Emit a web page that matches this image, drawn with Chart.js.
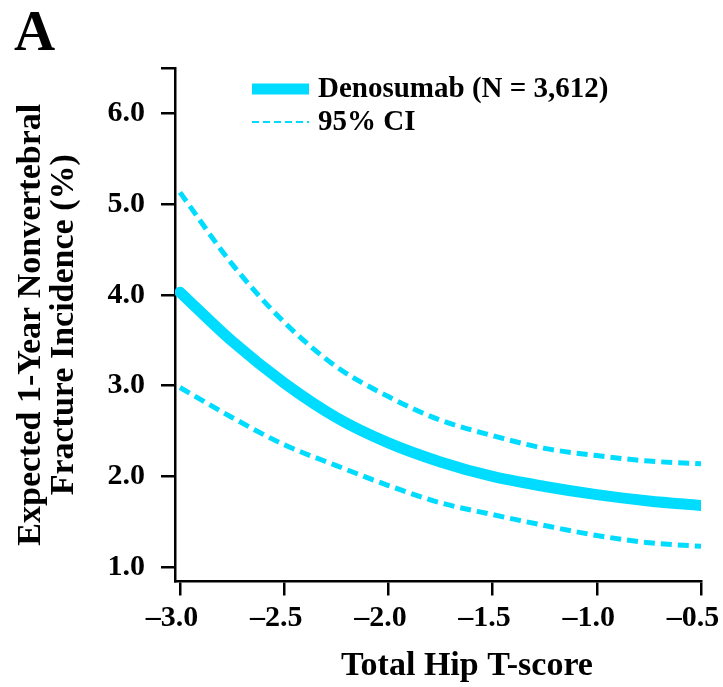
<!DOCTYPE html>
<html>
<head>
<meta charset="utf-8">
<script src="https://cdn.jsdelivr.net/npm/chart.js@4"></script>
<style>
  html, body { margin: 0; padding: 0; background: #ffffff; }
  #wrap { position: relative; width: 723px; height: 687px; }
  canvas { display: block; }
</style>
</head>
<body>
<div id="wrap"><canvas id="c" width="723" height="687"></canvas></div>
<script>
// ---- data ----
const tScores   = [-3.0, -2.75, -2.5, -2.25, -2.0, -1.75, -1.5, -1.25, -1.0, -0.75, -0.5];
const incidence = [4.03, 3.49, 3.03, 2.65, 2.37, 2.16, 2.00, 1.89, 1.80, 1.73, 1.68];
const ciUpper   = [5.13, 4.34, 3.70, 3.21, 2.88, 2.62, 2.45, 2.31, 2.23, 2.17, 2.14];
const ciLower   = [2.98, 2.65, 2.35, 2.12, 1.90, 1.71, 1.58, 1.46, 1.35, 1.27, 1.23];
const xTickValues = [-3.0, -2.5, -2.0, -1.5, -1.0, -0.5];
const yTickValues = [1.0, 2.0, 3.0, 4.0, 5.0, 6.0, 6.5];
const yLabelled   = [1.0, 2.0, 3.0, 4.0, 5.0, 6.0];
const seriesName = 'Denosumab (N = 3,612)';
const ciName = '95% CI';
const panelLetter = 'A';
const xTitle = 'Total Hip T-score';
const yTitle = ['Expected 1-Year Nonvertebral', 'Fracture Incidence (%)'];

const CYAN = '#00dcff';
const SERIF = '"Liberation Serif", "DejaVu Serif", serif';

const pts = arr => tScores.map((t, i) => ({x: t, y: arr[i]}));

const overlayPlugin = {
  id: 'overlayText',
  afterDraw(chart) {
    const ctx = chart.ctx;
    ctx.save();
    ctx.fillStyle = '#000';
    // panel letter
    ctx.font = 'bold 57px ' + SERIF;
    ctx.textBaseline = 'alphabetic';
    ctx.textAlign = 'left';
    ctx.fillText(panelLetter, 14, 50);
    // x-axis title
    ctx.font = 'bold 34px ' + SERIF;
    ctx.textAlign = 'center';
    ctx.fillText(xTitle, 467, 675);
    // legend
    const x0 = 252, x1 = 309, tx = 318;
    ctx.strokeStyle = CYAN;
    ctx.lineWidth = 11;
    ctx.setLineDash([]);
    ctx.beginPath(); ctx.moveTo(x0, 89); ctx.lineTo(x1, 89); ctx.stroke();
    ctx.lineWidth = 2;
    ctx.setLineDash([7, 4]);
    ctx.beginPath(); ctx.moveTo(x0, 122); ctx.lineTo(x1, 122); ctx.stroke();
    ctx.setLineDash([]);
    ctx.fillStyle = '#000';
    ctx.font = 'bold 29px ' + SERIF;
    ctx.textAlign = 'left';
    ctx.textBaseline = 'middle';
    ctx.fillText(seriesName, tx, 90);
    ctx.fillText(ciName, tx, 123);
    ctx.restore();
  }
};

new Chart(document.getElementById('c'), {
  type: 'line',
  data: {
    datasets: [
      { label: seriesName, data: pts(incidence), borderColor: CYAN, borderWidth: 11,
        borderCapStyle: 'round', pointRadius: 0, cubicInterpolationMode: 'monotone', fill: false },
      { label: ciName, data: pts(ciUpper), borderColor: CYAN, borderWidth: 5, borderDash: [11, 6],
        pointRadius: 0, cubicInterpolationMode: 'monotone', fill: false },
      { label: ciName + ' lower', data: pts(ciLower), borderColor: CYAN, borderWidth: 5, borderDash: [11, 6],
        pointRadius: 0, cubicInterpolationMode: 'monotone', fill: false }
    ]
  },
  options: {
    responsive: false,
    animation: false,
    events: [],
    layout: { padding: { left: 0, right: 22, top: 68, bottom: 0 } },
    plugins: { legend: { display: false }, tooltip: { enabled: false } },
    scales: {
      x: {
        type: 'linear',
        min: -3.024, max: -0.5,
        afterBuildTicks: s => { s.ticks = xTickValues.map(v => ({value: v})); },
        afterFit: s => { s.height = 105.5; s.paddingLeft = 0; s.paddingRight = 0; },
        ticks: {
          color: '#000', padding: 5, maxRotation: 0, autoSkip: false, labelOffset: -8,
          font: { family: SERIF, size: 30, weight: 'bold' },
          callback: v => '\u2013' + Math.abs(v).toFixed(1)
        },
        grid: { drawOnChartArea: false, drawTicks: true, tickLength: 14, color: '#000', lineWidth: 2.5 },
        border: { display: true, color: '#000', width: 2.5 },
        title: { display: false }
      },
      y: {
        type: 'linear',
        min: 0.843, max: 6.5,
        afterBuildTicks: s => { s.ticks = yTickValues.map(v => ({value: v})); },
        afterFit: s => { s.width = 175; s.paddingTop = 0; s.paddingBottom = 0; },
        ticks: {
          color: '#000', padding: 16, autoSkip: false,
          font: { family: SERIF, size: 30, weight: 'bold' },
          callback: v => yLabelled.includes(v) ? v.toFixed(1) : ''
        },
        grid: { drawOnChartArea: false, drawTicks: true, tickLength: 14, color: '#000', lineWidth: 2.5 },
        border: { display: true, color: '#000', width: 2.5 },
        title: { display: true, text: yTitle, color: '#000',
          font: { family: SERIF, size: 34, weight: 'bold', lineHeight: 0.97 },
          padding: { top: 15, bottom: 0 } }
      }
    }
  },
  plugins: [overlayPlugin]
});
</script>
</body>
</html>
